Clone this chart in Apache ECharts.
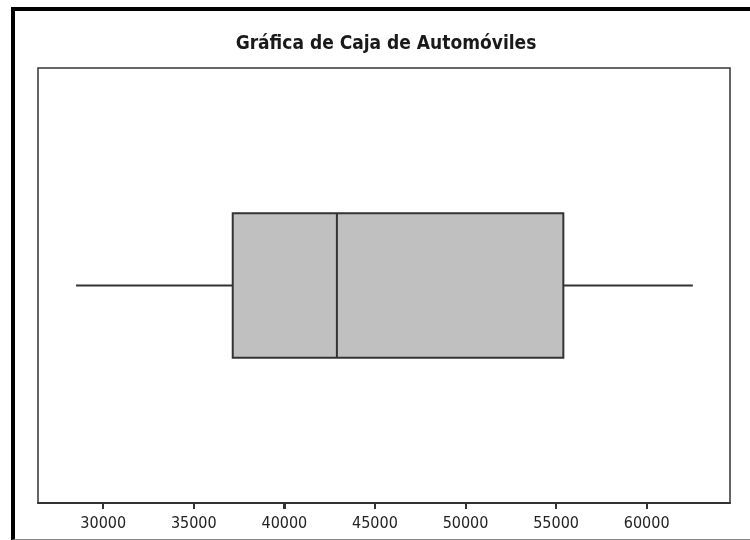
<!DOCTYPE html>
<html>
<head>
<meta charset="utf-8">
<script src="https://cdn.jsdelivr.net/npm/echarts@6/dist/echarts.min.js"></script>
<style>
html, body { margin: 0; padding: 0; background: #fff; }
#chart { position: absolute; left: 0; top: 0; width: 750px; height: 540px; }
#frame {
    position: absolute; left: 11px; top: 7px; width: 739px; height: 533px;
    box-sizing: border-box; pointer-events: none;
    border-left: 4px solid #000; border-top: 4px solid #000; border-bottom: 1px solid #888;
}
</style>
</head>
<body>
<div id="chart"></div>
<div id="frame"></div>
<script>
// datos de la gráfica de caja
const categories = ['Automóviles'];
const minimo = [28500];
const cuartil1 = [37150];
const mediana = [42900];
const cuartil3 = [55400];
const maximo = [62550];
const tickValues = [30000, 35000, 40000, 45000, 50000, 55000, 60000];

const boxData = categories.map((c, i) => [i, minimo[i], cuartil1[i], mediana[i], cuartil3[i], maximo[i]]);

const gridBottom = 37;

function renderBox(params, api) {
    const cat = api.value(0);
    const pMin = api.coord([api.value(1), cat]);
    const pQ1 = api.coord([api.value(2), cat]);
    const pMed = api.coord([api.value(3), cat]);
    const pQ3 = api.coord([api.value(4), cat]);
    const pMax = api.coord([api.value(5), cat]);
    const h = api.size([0, 1])[1] * 0.332;
    const lineStyle = { stroke: '#333', lineWidth: 2 };
    return {
        type: 'group',
        children: [
            { type: 'line', shape: { x1: pMin[0], y1: pMin[1], x2: pQ1[0], y2: pQ1[1] }, style: lineStyle },
            { type: 'line', shape: { x1: pQ3[0], y1: pQ3[1], x2: pMax[0], y2: pMax[1] }, style: lineStyle },
            { type: 'rect', shape: { x: pQ1[0], y: pQ1[1] - h / 2, width: pQ3[0] - pQ1[0], height: h },
              style: { fill: '#c0c0c0', stroke: '#333', lineWidth: 2 } },
            { type: 'line', shape: { x1: pMed[0], y1: pMed[1] - h / 2, x2: pMed[0], y2: pMed[1] + h / 2 }, style: lineStyle }
        ]
    };
}

const myChart = echarts.init(document.getElementById('chart'));
myChart.setOption({
    animation: false,
    title: {
        text: 'Gráfica de Caja de Automóviles',
        left: 381,
        textAlign: 'center',
        top: 30,
        textStyle: {
            fontFamily: 'DejaVu Sans Condensed',
            fontWeight: 'bold',
            fontSize: 19,
            color: '#1a1a1a'
        }
    },
    grid: {
        left: 38,
        right: 20,
        top: 68,
        bottom: gridBottom,
        show: true,
        borderColor: '#333',
        borderWidth: 1.5
    },
    xAxis: {
        type: 'value',
        min: 26400,
        max: 64600,
        splitLine: { show: false },
        axisLine: { show: true, onZero: false, lineStyle: { color: '#333', width: 2 } },
        axisTick: { show: true, length: 6, customValues: tickValues, lineStyle: { color: '#333', width: 2 } },
        axisLabel: {
            customValues: tickValues,
            margin: 13,
            formatter: v => String(v),
            fontFamily: 'DejaVu Sans Condensed',
            fontSize: 16,
            color: '#222'
        }
    },
    yAxis: {
        type: 'category',
        data: categories,
        axisLine: { show: false },
        axisTick: { show: false },
        axisLabel: { show: false },
        splitLine: { show: false }
    },
    series: [{
        type: 'custom',
        renderItem: renderBox,
        encode: { x: [1, 2, 3, 4, 5], y: 0 },
        data: boxData
    }]
});

// marcas del eje x, situadas con la escala del propio eje
const axisY = myChart.getHeight() - gridBottom;
myChart.setOption({
    graphic: tickValues.map(v => {
        const x = Math.round(myChart.convertToPixel({ xAxisIndex: 0 }, v));
        return {
            type: 'line',
            silent: true,
            z: 100,
            shape: { x1: x, y1: axisY, x2: x, y2: axisY + 6 },
            style: { stroke: '#333', lineWidth: 2 }
        };
    })
});
</script>
</body>
</html>
